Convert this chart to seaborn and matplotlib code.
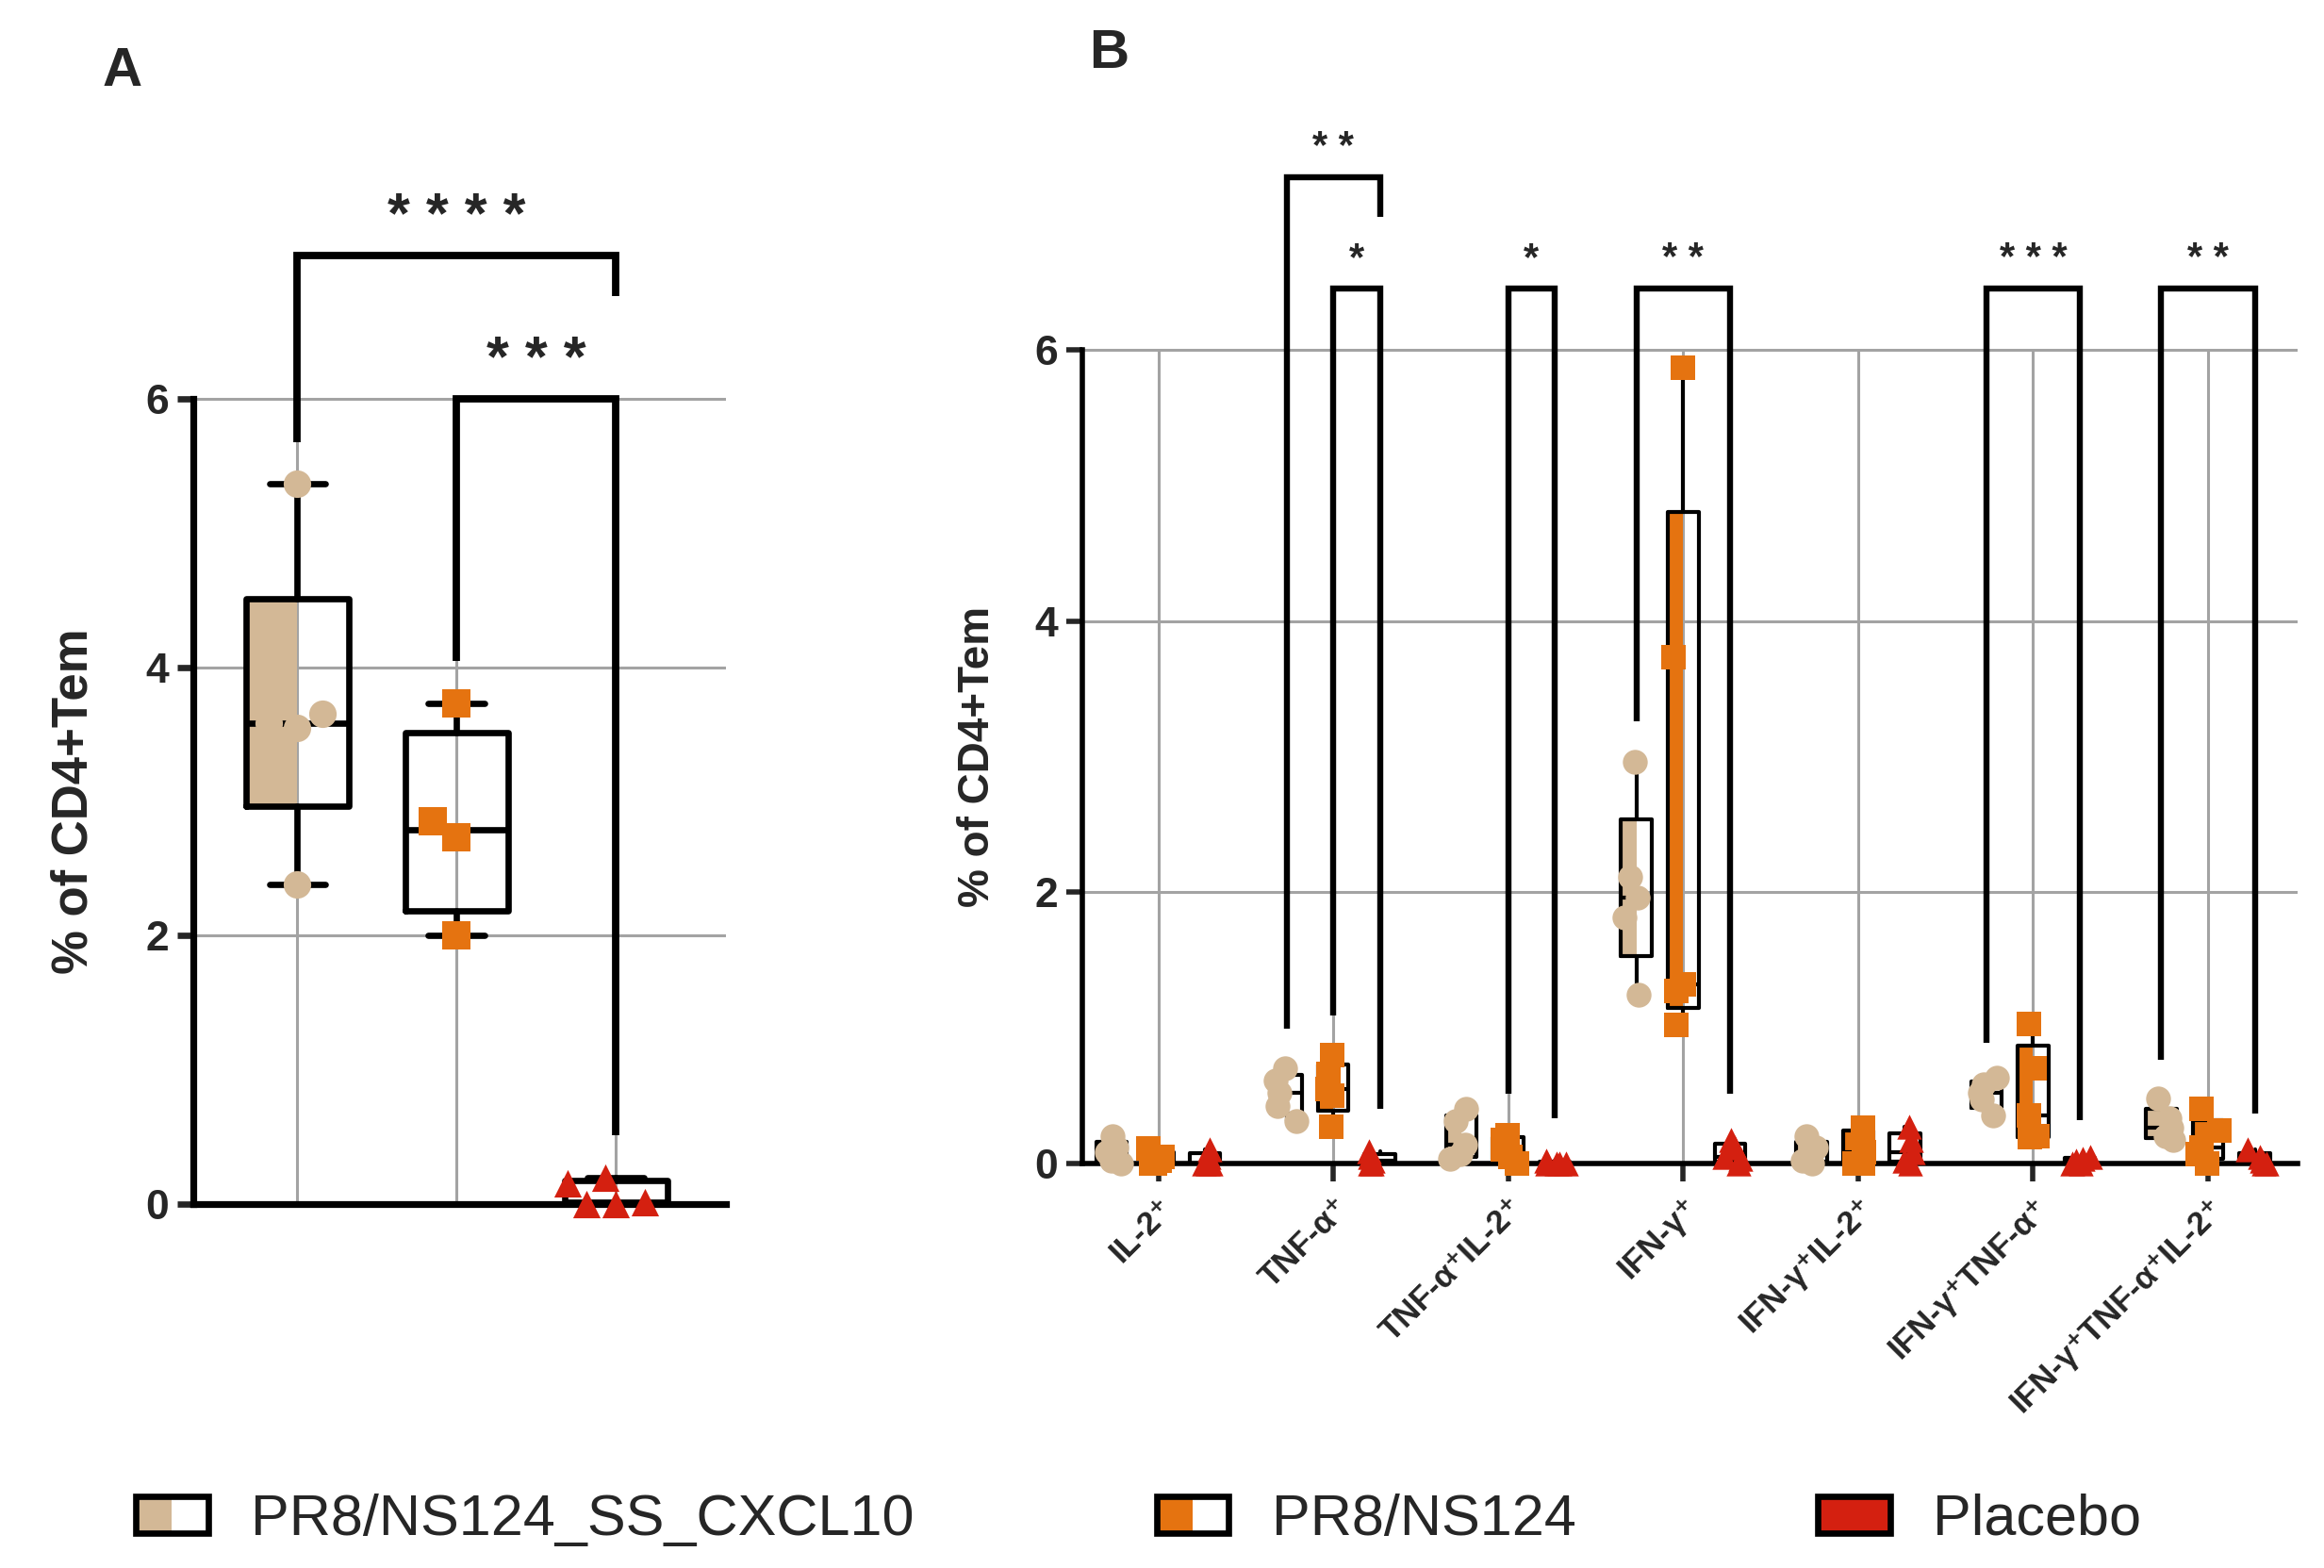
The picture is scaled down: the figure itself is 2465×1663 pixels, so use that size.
import numpy as np
import pandas as pd
import seaborn as sns
import matplotlib.pyplot as plt
from matplotlib.patches import Rectangle, Patch
from matplotlib.legend_handler import HandlerBase

# datos
groups = ["PR8/NS124_SS_CXCL10", "PR8/NS124", "Placebo"]
colors = ["#D3B896", "#E57310", "#D42010"]
markers = ["o", "s", "^"]

# panel A: % of CD4+Tem
a_cxcl10 = [5.37, 3.65, 3.55, 3.58, 2.38]
a_ns124 = [3.73, 2.85, 2.73, 2.00]
a_placebo = [0.00, 0.19, 0.00, 0.15, 0.01]

# panel B: citoquinas
cytokines = ["IL-2⁺", "TNF-α⁺", "TNF-α⁺IL-2⁺", "IFN-γ⁺", "IFN-γ⁺IL-2⁺",
             "IFN-γ⁺TNF-α⁺", "IFN-γ⁺TNF-α⁺IL-2⁺"]
b_cxcl10 = [
    [0.20, 0.12, 0.08, 0.02, 0.00],
    [0.31, 0.42, 0.52, 0.61, 0.70],
    [0.03, 0.07, 0.14, 0.31, 0.40],
    [1.24, 1.81, 1.96, 2.11, 2.96],
    [0.20, 0.12, 0.06, 0.02, 0.00],
    [0.35, 0.47, 0.52, 0.58, 0.63],
    [0.17, 0.20, 0.26, 0.33, 0.48],
]
b_ns124 = [
    [0.11, 0.05, 0.02, 0.00, 0.00],
    [0.27, 0.50, 0.55, 0.66, 0.80],
    [0.00, 0.05, 0.10, 0.17, 0.21],
    [1.02, 1.27, 1.32, 3.73, 5.87],
    [0.00, 0.00, 0.08, 0.22, 0.26],
    [0.19, 0.20, 0.35, 0.70, 1.03],
    [0.00, 0.07, 0.12, 0.24, 0.40],
]
b_placebo = [
    [0.10, 0.05, 0.00, 0.00, 0.00],
    [0.09, 0.05, 0.02, 0.00, 0.00],
    [0.02, 0.00, 0.00, 0.00, 0.00],
    [0.17, 0.12, 0.05, 0.03, 0.00],
    [0.00, 0.02, 0.08, 0.17, 0.27],
    [0.05, 0.03, 0.02, 0.00, 0.00],
    [0.10, 0.05, 0.02, 0.00, 0.00],
]

# significancia: (grupo izq, grupo der, altura, pata izq, pata der, texto)
a_sig = [(0, 2, 7.07, 5.68, 6.77, "* * * *"),
         (1, 2, 6.00, 4.05, 0.51, "* * *")]
# panel B: (categoria, grupo izq, grupo der, altura, pata izq, pata der, texto)
b_sig = [(1, 0, 2, 7.27, 0.99, 6.98, "* *"),
         (1, 1, 2, 6.45, 1.09, 0.40, "*"),
         (2, 1, 2, 6.45, 0.51, 0.33, "*"),
         (3, 0, 2, 6.45, 3.26, 0.51, "* *"),
         (5, 0, 2, 6.45, 0.89, 0.32, "* * *"),
         (6, 0, 2, 6.45, 0.76, 0.37, "* *")]

sns.set_style("white")
plt.rcParams["font.family"] = ["Liberation Sans", "DejaVu Sans"]
grid_gray = "#A3A3A3"


def box_stats(vals):
    # cuartiles al estilo GraphPad
    q1, med, q3 = np.percentile(vals, [25, 50, 75], method="weibull")
    return dict(med=med, q1=q1, q3=q3, whislo=min(vals), whishi=max(vals), fliers=[])


def draw_box(ax, vals, pos, width, color, lw, caps, fill=True):
    st = box_stats(vals)
    if fill:
        ax.add_patch(Rectangle((pos - width / 2, st["q1"]), width / 2, st["q3"] - st["q1"],
                               facecolor=color, edgecolor="none", zorder=1.8))
    ax.bxp([st], positions=[pos], widths=width, showfliers=False, showcaps=caps,
           capwidths=width * 0.55, zorder=2,
           boxprops=dict(color="black", lw=lw),
           whiskerprops=dict(color="black", lw=lw),
           capprops=dict(color="black", lw=lw),
           medianprops=dict(color="black", lw=lw))


def bracket(ax, x1, x2, top, leg1, leg2, text, lw, fs):
    ax.plot([x1, x1, x2, x2], [leg1, top, top, leg2], color="black", lw=lw,
            solid_joinstyle="miter", solid_capstyle="butt", zorder=2.5, clip_on=False)
    ax.text((x1 + x2) / 2, top + 0.08, text, ha="center", va="bottom",
            fontsize=fs, fontweight="bold", clip_on=False)


fig = plt.figure(figsize=(12.325, 8.315), dpi=200)

# ---------------- panel A ----------------
axA = fig.add_axes([0.0832, 0.2324, 0.229, 0.6414])
a_vals = [a_cxcl10, a_ns124, a_placebo]
dfA = pd.DataFrame({"grupo": np.repeat(groups, [len(v) for v in a_vals]),
                    "valor": np.concatenate(a_vals)})
for y in [2, 4, 6]:
    axA.axhline(y, color=grid_gray, lw=1.1, zorder=0.5)
axA.vlines(range(3), 0, 6, color=grid_gray, lw=1.1, zorder=0.5)
for i, g in enumerate(groups):
    draw_box(axA, a_vals[i], i, 0.645, colors[i], 2.4, True, fill=(i == 0))
    sub = dfA[dfA["grupo"] == g]
    sns.swarmplot(data=sub, x="grupo", y="valor", order=groups, color=colors[i],
                  marker=markers[i], size=10.5, linewidth=0, ax=axA, zorder=3, clip_on=False)
for s in a_sig:
    bracket(axA, s[0], s[1], s[2], s[3], s[4], s[5], 2.8, 22)
axA.set_xlim(-0.654, 2.69)
axA.set_ylim(0, 7.5)
axA.set_xticks([])
axA.set_yticks([0, 2, 4, 6])
axA.set_xlabel("")
axA.set_ylabel("% of CD4+Tem", fontsize=19, fontweight="bold")
axA.yaxis.set_label_coords(-0.18, 0.4)
axA.tick_params(axis="y", labelsize=16, width=2.4, length=6, direction="out", left=True)
for lab in axA.get_yticklabels():
    lab.set_fontweight("bold")
sns.despine(ax=axA)
axA.spines["left"].set_bounds(0, 6)
for sp in ["left", "bottom"]:
    axA.spines[sp].set_linewidth(2.6)
    axA.spines[sp].set_color("black")

# ---------------- panel B ----------------
axB = fig.add_axes([0.4658, 0.2581, 0.5227, 0.6486])
offsets = [-0.267, 0.0, 0.267]
b_vals = [b_cxcl10, b_ns124, b_placebo]
for y in [2, 4, 6]:
    axB.axhline(y, color=grid_gray, lw=1.1, zorder=0.5)
axB.vlines(range(len(cytokines)), 0, 6, color=grid_gray, lw=1.1, zorder=0.5)
np.random.seed(3)
for gi, g in enumerate(groups):
    xs, ys = [], []
    for ci in range(len(cytokines)):
        draw_box(axB, b_vals[gi][ci], ci + offsets[gi], 0.175, colors[gi], 1.5, False,
                 fill=(gi < 2))
        xs += [ci + offsets[gi]] * len(b_vals[gi][ci])
        ys += b_vals[gi][ci]
    sub = pd.DataFrame({"pos": xs, "valor": ys})
    sns.stripplot(data=sub, x="pos", y="valor", native_scale=True, jitter=0.07,
                  color=colors[gi], marker=markers[gi], size=9.5, linewidth=0,
                  ax=axB, zorder=3, clip_on=False)
for s in b_sig:
    bracket(axB, s[0] + offsets[s[1]], s[0] + offsets[s[2]], s[3], s[4], s[5], s[6], 2.3, 15)
axB.set_xlim(-0.433, 6.51)
axB.set_ylim(0, 7.5)
axB.set_xticks(range(len(cytokines)))
axB.set_xticklabels(cytokines, rotation=45, ha="right", rotation_mode="anchor",
                    fontsize=12.5, fontweight="bold")
axB.set_yticks([0, 2, 4, 6])
axB.set_xlabel("")
axB.set_ylabel("% of CD4+Tem", fontsize=16.5, fontweight="bold")
axB.yaxis.set_label_coords(-0.069, 0.4)
axB.tick_params(axis="y", labelsize=16, width=2.0, length=6, direction="out", left=True)
axB.tick_params(axis="x", width=2.0, length=7, direction="out", bottom=True, pad=4)
for lab in axB.get_yticklabels():
    lab.set_fontweight("bold")
sns.despine(ax=axB)
axB.spines["left"].set_bounds(0, 6)
for sp in ["left", "bottom"]:
    axB.spines[sp].set_linewidth(2.0)
    axB.spines[sp].set_color("black")

fig.text(0.0525, 0.954, "A", fontsize=21, fontweight="bold", ha="center", va="center")
fig.text(0.477, 0.966, "B", fontsize=21, fontweight="bold", ha="center", va="center")


# leyenda con cajas medio rellenas
class HalfBox(HandlerBase):
    def __init__(self, color, full=False):
        super().__init__()
        self.color = color
        self.full = full

    def create_artists(self, legend, orig_handle, xdescent, ydescent, width, height,
                       fontsize, trans):
        w = width if self.full else width / 2
        fill = Rectangle((-xdescent, -ydescent), w, height, facecolor=self.color,
                         edgecolor="none", transform=trans)
        frame = Rectangle((-xdescent, -ydescent), width, height, facecolor="none",
                          edgecolor="black", lw=2.4, transform=trans)
        return [fill, frame]


handles = [Patch(label=g) for g in groups]
hmap = {h: HalfBox(colors[i], full=(i == 2)) for i, h in enumerate(handles)}
fig.legend(handles=handles, labels=groups, handler_map=hmap, loc="center",
           bbox_to_anchor=(0.49, 0.0305), ncol=3, frameon=False, fontsize=22,
           handlelength=1.25, handleheight=0.6, handletextpad=0.75, columnspacing=4.2)

fig.savefig("out.png", dpi=200)
